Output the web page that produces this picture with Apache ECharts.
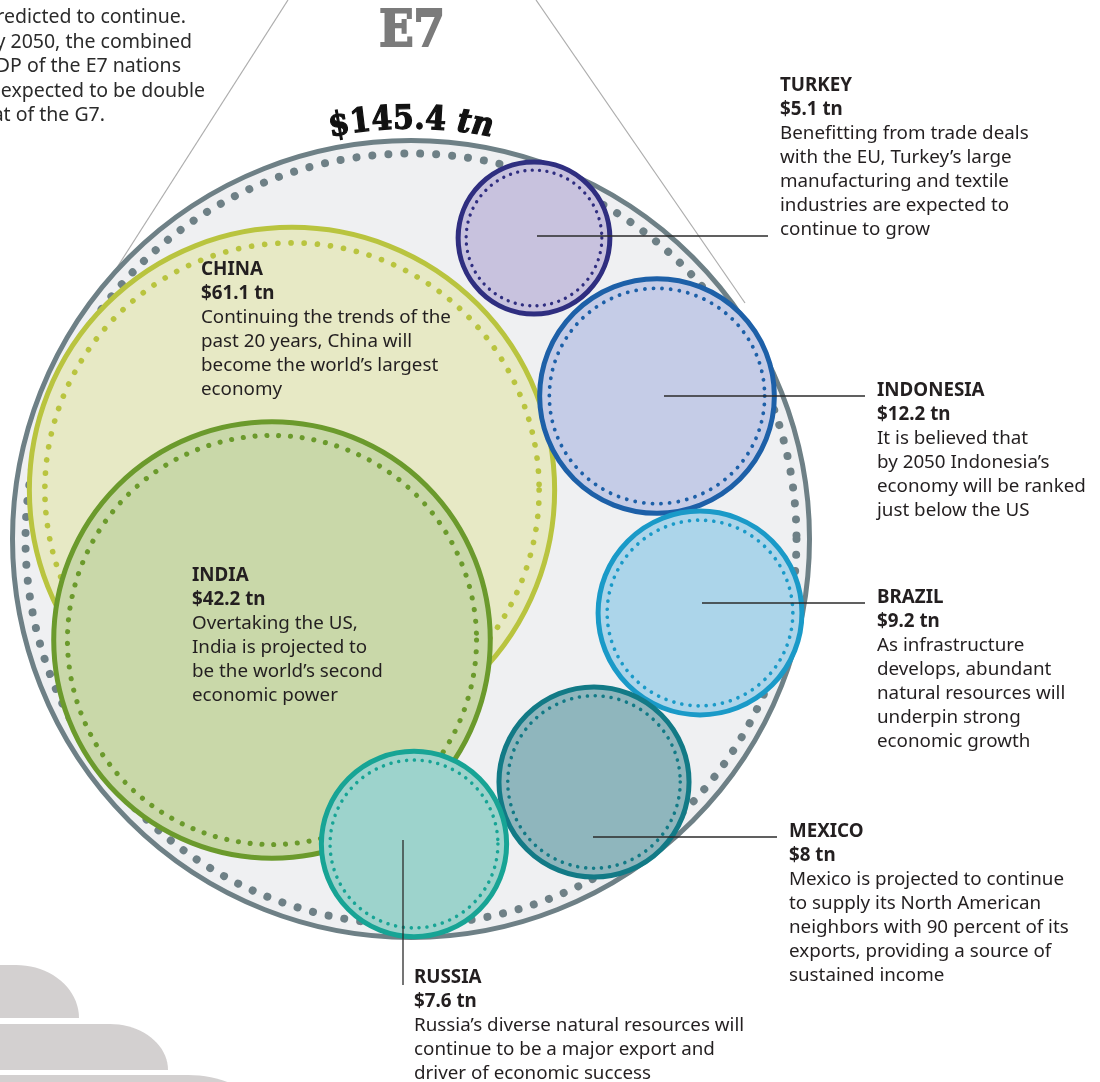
<!DOCTYPE html>
<html>
<head>
<meta charset="utf-8">
<script src="https://cdn.jsdelivr.net/npm/echarts@6/dist/echarts.min.js"></script>
<style>
  html, body { margin: 0; padding: 0; background: #fff; }
  #chart { width: 1100px; height: 1082px; }
</style>
</head>
<body>
<div id="chart"></div>
<script>
// --- data ---
var countries = ['CHINA', 'INDIA', 'TURKEY', 'INDONESIA', 'BRAZIL', 'MEXICO', 'RUSSIA'];
var gdp = [61.1, 42.2, 5.1, 12.2, 9.2, 8, 7.6];          // $ tn, 2050 projection
var gdpText = ['$61.1 tn', '$42.2 tn', '$5.1 tn', '$12.2 tn', '$9.2 tn', '$8 tn', '$7.6 tn'];
var totalGdp = 145.4;
var totalText = ['$145.4 ', 'tn'];
var notes = [
  ['Continuing the trends of the', 'past 20 years, China will', 'become the world\u2019s largest', 'economy'],
  ['Overtaking the US,', 'India is projected to', 'be the world\u2019s second', 'economic power'],
  ['Benefitting from trade deals', 'with the EU, Turkey\u2019s large', 'manufacturing and textile', 'industries are expected to', 'continue to grow'],
  ['It is believed that', 'by 2050 Indonesia\u2019s', 'economy will be ranked', 'just below the US'],
  ['As infrastructure', 'develops, abundant', 'natural resources will', 'underpin strong', 'economic growth'],
  ['Mexico is projected to continue', 'to supply its North American', 'neighbors with 90 percent of its', 'exports, providing a source of', 'sustained income'],
  ['Russia\u2019s diverse natural resources will', 'continue to be a major export and', 'driver of economic success']
];
var introLines = ['predicted to continue.', 'By 2050, the combined', 'GDP of the E7 nations', 'is expected to be double', 'that of the G7.'];

// --- layout (chart units = px of the 1100x1082 frame) ---
var bubbleX = [292, 272, 534, 657, 700, 594, 414];
var bubbleY = [490, 640, 238, 396, 613, 782, 844];
var labelX = [201, 192, 780, 877, 877, 789, 414];
var labelY = [258, 564, 74, 379, 586, 820, 966];
var leaders = [null, null, [537, 236, 768, 236], [664, 396, 865, 396], [702, 603, 865, 603], [593, 837, 777, 837], [403, 840, 403, 985]];
var shell = [411, 539];
var SHELL_R = 398.5;
var K = 33.6;   // radius per sqrt($tn)

var palette = [
  { fill: '#e7e9c5', line: '#b9c43f' },
  { fill: '#c9d8a9', line: '#6b9a2c' },
  { fill: '#c8c2de', line: '#2f2e80' },
  { fill: '#c5cce7', line: '#1d60a8' },
  { fill: '#acd5ea', line: '#1a9ac8' },
  { fill: '#8fb6bd', line: '#127a86' },
  { fill: '#9dd3cc', line: '#17a495' }
];
var FONT = '"Noto Sans", Lato, sans-serif';
var SLAB = '"DejaVu Serif Condensed", "DejaVu Serif", serif';
var FS = 18.8;

var myChart = echarts.init(document.getElementById('chart'));

function dottedRing(cx, cy, r, color, dot, gap) {
  return {
    type: 'circle',
    shape: { cx: cx, cy: cy, r: r },
    style: { fill: 'none', stroke: color, lineWidth: dot, lineDash: [0.01, gap], lineCap: 'round' }
  };
}

function renderShell(params, api) {
  var c = api.coord([api.value(0), api.value(1)]);
  var r = api.size([SHELL_R, 0])[0];
  return {
    type: 'group',
    children: [
      { type: 'circle', shape: { cx: c[0], cy: c[1], r: r }, style: { fill: '#eff0f2', stroke: '#6e8086', lineWidth: 5 } },
      dottedRing(c[0], c[1], r - 13, '#6e8086', 8, 16)
    ]
  };
}

function renderBubble(params, api) {
  var i = params.dataIndex;
  var c = api.coord([api.value(0), api.value(1)]);
  var r = api.size([K * Math.sqrt(api.value(2)), 0])[0];
  var col = palette[i];
  var inset = 5 + r * 0.04;
  var children = [
    { type: 'circle', shape: { cx: c[0], cy: c[1], r: r }, style: { fill: col.fill, stroke: col.line, lineWidth: 5 } },
    dottedRing(c[0], c[1], r - inset, col.line, 2.4 + r / 80, 5 + r / 32)
  ];
  var ld = leaders[i];
  if (ld) {
    var p1 = api.coord([ld[0], ld[1]]), p2 = api.coord([ld[2], ld[3]]);
    children.push({ type: 'line', shape: { x1: p1[0], y1: p1[1], x2: p2[0], y2: p2[1] }, style: { stroke: '#2b2b2b', lineWidth: 1.3 } });
  }
  var lp = api.coord([labelX[i], labelY[i]]);
  children.push({
    type: 'text',
    x: lp[0], y: lp[1],
    style: {
      text: '{t|' + countries[i] + '}\n{t|' + gdpText[i] + '}\n' + notes[i].join('\n'),
      fontFamily: FONT, fontSize: FS, lineHeight: 24, fill: '#231f20',
      align: 'left', verticalAlign: 'top',
      rich: { t: { fontFamily: FONT, fontSize: FS, fontWeight: 'bold', lineHeight: 24, fill: '#231f20' } }
    }
  });
  return { type: 'group', children: children };
}

// total label set along the top of the shell
var ctx = document.createElement('canvas').getContext('2d');
function arcLabel() {
  var fonts = ['bold 33px ' + SLAB, 'italic bold 33px ' + SLAB];
  var chars = [];
  totalText.forEach(function (part, k) {
    ctx.font = fonts[k];
    part.split('').forEach(function (ch) { chars.push({ ch: ch, font: fonts[k], w: ctx.measureText(ch).width }); });
  });
  var W = chars.reduce(function (s, c) { return s + c.w; }, 0);
  var R = SHELL_R + 4, pos = -W / 2, out = [];
  chars.forEach(function (c) {
    var th = (pos + c.w / 2) / R;
    pos += c.w;
    out.push({
      type: 'text', z: 20,
      x: shell[0] + R * Math.sin(th), y: shell[1] - R * Math.cos(th),
      rotation: -th,
      style: { text: c.ch, font: c.font, fill: '#111', stroke: '#111', lineWidth: 1.2, align: 'center', verticalAlign: 'bottom' }
    });
  });
  return out;
}

// grey hills in the bottom-left corner (flat top, rounded right shoulder)
function hill(top, bottom, flatEnd, right) {
  var pts = [[-5, bottom], [-5, top], [flatEnd, top]];
  for (var t = 0.05; t <= 1.0001; t += 0.05) {
    var a = t * Math.PI / 2;
    pts.push([flatEnd + (right - flatEnd) * Math.sin(a), bottom - (bottom - top) * Math.cos(a)]);
  }
  return { type: 'polygon', z: 0, shape: { points: pts }, style: { fill: '#d3d0d0' } };
}

var introY = [17, 42, 66, 91, 115];
var introRight = [186, 192, 181, 205, 105];
var decor = [
  { type: 'line', z: 0, shape: { x1: 288, y1: 0, x2: 86, y2: 316 }, style: { stroke: '#adadad', lineWidth: 1.2 } },
  { type: 'line', z: 0, shape: { x1: 536, y1: 0, x2: 745, y2: 303 }, style: { stroke: '#adadad', lineWidth: 1.2 } },
  { type: 'text', z: 20, x: 412, y: 33, style: { text: 'E7', font: 'bold 50px ' + SLAB, fill: '#7b7b7b', stroke: '#7b7b7b', lineWidth: 2, align: 'center', verticalAlign: 'middle' } },
  hill(965, 1018, 16, 79),
  hill(1024, 1070, 110, 168),
  hill(1075, 1120, 188, 262)
];
introLines.forEach(function (t, k) {
  decor.push({ type: 'text', z: 20, x: introRight[k], y: introY[k], style: { text: t, font: '19.5px ' + FONT, fill: '#2b2b2b', align: 'right', verticalAlign: 'middle' } });
});

var option = {
  animation: false,
  grid: { left: 0, right: 0, top: 0, bottom: 0 },
  xAxis: { type: 'value', min: 0, max: 1100, show: false },
  yAxis: { type: 'value', min: 0, max: 1082, inverse: true, show: false },
  graphic: decor.concat(arcLabel()),
  series: [
    {
      type: 'custom', z: 1, renderItem: renderShell,
      data: [[shell[0], shell[1], totalGdp]]
    },
    {
      type: 'custom', z: 2, renderItem: renderBubble,
      data: countries.map(function (c, i) { return [bubbleX[i], bubbleY[i], gdp[i]]; })
    }
  ]
};

myChart.setOption(option);
</script>
</body>
</html>
